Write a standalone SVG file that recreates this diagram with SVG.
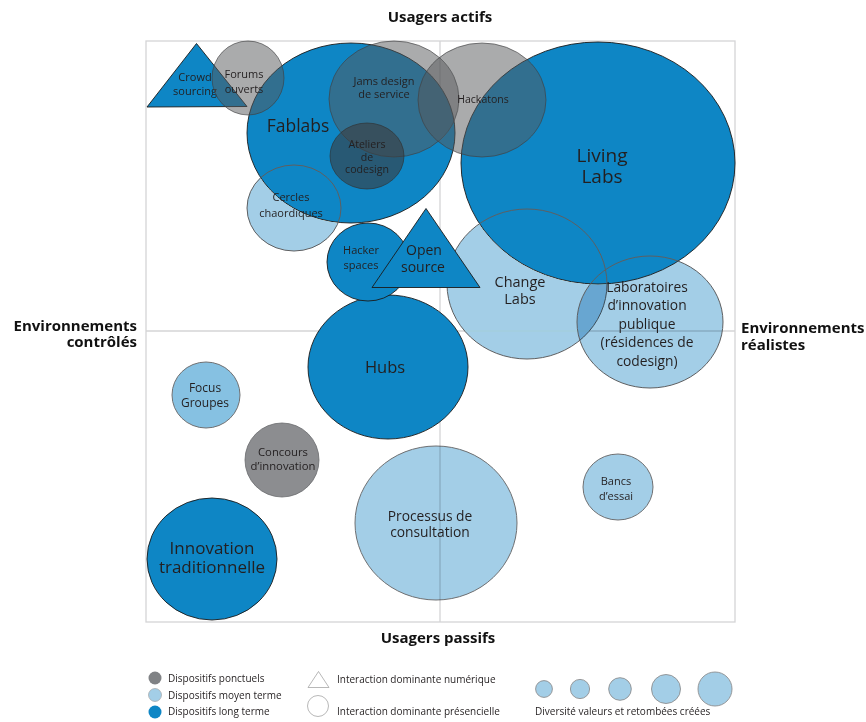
<svg xmlns="http://www.w3.org/2000/svg" width="866" height="722" viewBox="0 0 866 722">
<style>
text{font-family:"Open Sans","Liberation Sans",sans-serif;fill:#231f20;text-anchor:middle}
.axis{font-weight:700;font-size:15px;fill:#111}
.lg{font-size:10px;text-anchor:start;fill:#231f20}
.grid{fill:none;stroke:#d4d4d6;stroke-width:1.3}
.blue{fill:#0e86c5;stroke:#1b1b1b;stroke-width:0.9}
.light{fill:#a3cee7;stroke:#6e6f71;stroke-width:1}
.lfill{fill:#a3cee7;stroke:none}
.mul{mix-blend-mode:multiply}
.dark{mix-blend-mode:darken}
.gray{fill:#56575a;fill-opacity:0.5;stroke:#3f3f41;stroke-opacity:0.8;stroke-width:0.8}
.gray2{fill:#3b3c3e;fill-opacity:0.6;stroke:#2f2f30;stroke-opacity:0.8;stroke-width:0.8}
.edge{fill:none;stroke:#5e5f61;stroke-width:1}
.s11{font-size:11px}
.s10{font-size:10.6px}
</style>
<defs>
<mask id="notLiving" maskUnits="userSpaceOnUse" x="0" y="0" width="866" height="722">
<rect x="0" y="0" width="866" height="722" fill="#fff"/>
<ellipse cx="598" cy="163" rx="137" ry="121" fill="#000"/>
</mask>
</defs>
<rect x="0" y="0" width="866" height="722" fill="#fff"/>
<g id="frame">
<rect class="grid" x="146" y="41" width="589" height="581"/>
<line class="grid" x1="440" y1="41" x2="440" y2="622"/>
<line class="grid" x1="146" y1="331" x2="735" y2="331"/>
</g>
<g id="axis-labels">
<text class="axis" x="440" y="22">Usagers actifs</text>
<text class="axis" x="438" y="643">Usagers passifs</text>
<text class="axis" x="137" y="330.5" style="text-anchor:end">Environnements</text>
<text class="axis" x="137" y="347" style="text-anchor:end">contrôlés</text>
<text class="axis" x="741" y="333" style="text-anchor:start">Environnements</text>
<text class="axis" x="741" y="349.5" style="text-anchor:start">réalistes</text>
</g>
<g id="focus-groupes">
<ellipse class="light mul" cx="206" cy="395" rx="34" ry="33" style="fill:#86c1e2"/>
<text x="205" y="391.5" font-size="12">Focus</text>
<text x="205" y="406.5" font-size="12">Groupes</text>
</g>
<g id="processus-consultation">
<ellipse class="light mul" cx="436" cy="523" rx="81" ry="77"/>
<text x="430" y="521" font-size="13.8">Processus de</text>
<text x="430" y="537" font-size="13.8">consultation</text>
</g>
<g id="bancs-essai">
<ellipse class="light mul" cx="618" cy="487" rx="35" ry="33"/>
<text class="s11" x="616" y="485">Bancs</text>
<text class="s11" x="616" y="499.5">d’essai</text>
</g>
<g id="innovation-traditionnelle">
<ellipse class="blue" cx="212" cy="559" rx="65" ry="61"/>
<text x="212" y="554" font-size="17">Innovation</text>
<text x="212" y="572.5" font-size="17">traditionnelle</text>
</g>
<g id="hubs">
<ellipse class="blue" cx="388" cy="367" rx="80" ry="72"/>
<text x="385" y="373" font-size="16.5">Hubs</text>
</g>
<g id="hacker-spaces">
<ellipse class="blue" cx="368" cy="262" rx="41" ry="39"/>
<text class="s11" x="361" y="254">Hacker</text>
<text class="s11" x="361" y="268.5">spaces</text>
</g>
<g id="concours-innovation">
<ellipse cx="282" cy="460" rx="37" ry="37" fill="#8c8d90" stroke="#6a6b6d" stroke-width="0.8"/>
<text x="283" y="456" font-size="11.3">Concours</text>
<text x="283" y="470" font-size="11.3">d’innovation</text>
</g>
<g id="living-labs">
<ellipse class="blue" cx="598" cy="163" rx="137" ry="121"/>
<text x="602" y="161.5" font-size="19">Living</text>
<text x="602" y="183" font-size="19">Labs</text>
</g>
<g id="change-labs">
<ellipse class="lfill dark" cx="527" cy="284" rx="80" ry="75"/>
<ellipse class="edge" cx="527" cy="284" rx="80" ry="75"/>
<text x="520" y="286.5" font-size="14.5">Change</text>
<text x="520" y="304" font-size="14.5">Labs</text>
</g>
<g id="laboratoires-innovation-publique">
<ellipse class="lfill mul" cx="650" cy="322" rx="73" ry="66" mask="url(#notLiving)"/>
<ellipse class="edge" cx="650" cy="322" rx="73" ry="66"/>
<text x="647" y="291.5" font-size="13.8">Laboratoires</text>
<text x="647" y="310" font-size="13.8">d’innovation</text>
<text x="647" y="328.5" font-size="13.8">publique</text>
<text x="647" y="347" font-size="13.8">(résidences de</text>
<text x="647" y="365.5" font-size="13.8">codesign)</text>
</g>
<g id="fablabs">
<ellipse class="blue" cx="351" cy="133" rx="104" ry="90"/>
<text x="298" y="132" font-size="17.5">Fablabs</text>
</g>
<g id="cercles-chaordiques">
<ellipse class="lfill dark" cx="294" cy="208" rx="47" ry="43"/>
<ellipse class="edge" cx="294" cy="208" rx="47" ry="43"/>
<text class="s11" x="291" y="201">Cercles</text>
<text class="s11" x="291" y="216.5">chaordiques</text>
</g>
<g id="open-source">
<polygon class="blue" points="426,208.5 372,287.5 480,287.5"/>
<text x="424" y="255" font-size="14">Open</text>
<text x="423" y="272" font-size="14">source</text>
</g>
<g id="crowd-sourcing">
<polygon class="blue" points="196.5,43.5 147,107 247,106.5"/>
<text class="s11" x="195" y="80.5">Crowd</text>
<text class="s11" x="195" y="94.5">sourcing</text>
</g>
<g id="forums-ouverts">
<ellipse class="gray" cx="248" cy="78" rx="36" ry="37"/>
<text class="s11" x="244" y="78">Forums</text>
<text class="s11" x="244" y="93">ouverts</text>
</g>
<g id="jams-design">
<ellipse class="gray" cx="394" cy="99" rx="65" ry="58"/>
<text class="s11" x="384" y="84.5">Jams design</text>
<text class="s11" x="384" y="97.5">de service</text>
</g>
<g id="ateliers-codesign">
<ellipse class="gray2" cx="367" cy="156" rx="37" ry="33"/>
<text class="s10" x="367" y="148">Ateliers</text>
<text class="s10" x="367" y="160.5">de</text>
<text class="s10" x="367" y="173">codesign</text>
</g>
<g id="hackatons">
<ellipse class="gray" cx="482" cy="100" rx="64" ry="57"/>
<text x="483" y="102.5" font-size="10.5">Hackatons</text>
</g>
<g id="legend">
<circle cx="155" cy="678" r="6.5" fill="#808285"/>
<circle cx="155" cy="695" r="6.5" fill="#a3cee7" stroke="#9a9a9a" stroke-width="0.6"/>
<circle cx="155" cy="712" r="6.5" fill="#0e86c5"/>
<text class="lg" x="168" y="682">Dispositifs ponctuels</text>
<text class="lg" x="168" y="698.5">Dispositifs moyen terme</text>
<text class="lg" x="168" y="715">Dispositifs long terme</text>
<polygon points="318.5,671.5 308,687.5 329,687.5" fill="#fff" stroke="#9a9a9a" stroke-width="0.7"/>
<circle cx="318" cy="706" r="10.5" fill="#fff" stroke="#9a9a9a" stroke-width="0.7"/>
<text class="lg" x="337" y="682.5">Interaction dominante numérique</text>
<text class="lg" x="337" y="715">Interaction dominante présencielle</text>
<circle cx="544" cy="689" r="8.4" fill="#a3cee7" stroke="#8e8e90" stroke-width="0.9"/>
<circle cx="580" cy="689" r="9.6" fill="#a3cee7" stroke="#8e8e90" stroke-width="0.9"/>
<circle cx="620" cy="689" r="11.3" fill="#a3cee7" stroke="#8e8e90" stroke-width="0.9"/>
<circle cx="666" cy="689" r="14.5" fill="#a3cee7" stroke="#8e8e90" stroke-width="0.9"/>
<circle cx="715" cy="689" r="17" fill="#a3cee7" stroke="#8e8e90" stroke-width="0.9"/>
<text class="lg" x="535" y="715">Diversité valeurs et retombées créées</text>
</g>
</svg>
